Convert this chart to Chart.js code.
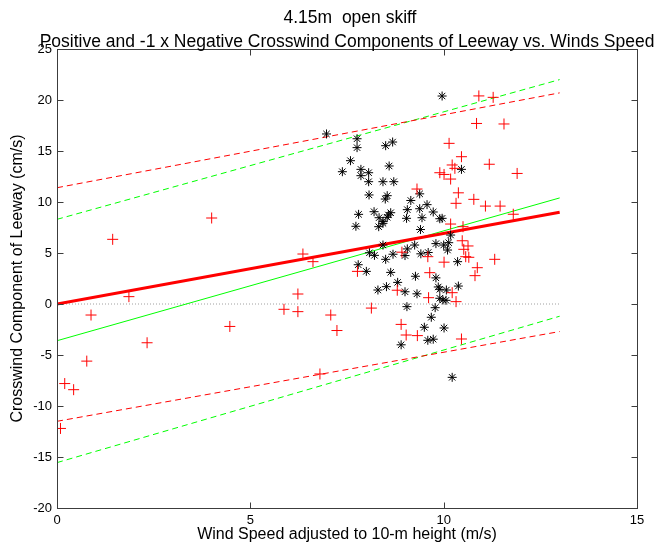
<!DOCTYPE html>
<html>
<head>
<meta charset="utf-8">
<script src="https://cdn.jsdelivr.net/npm/chart.js@4.4.1/dist/chart.umd.min.js"></script>
<style>
  html, body { margin: 0; padding: 0; background: #fff; }
  #wrap { width: 671px; height: 545px; }
</style>
</head>
<body>
<div id="wrap"><canvas id="c" width="671" height="545"></canvas></div>
<script>
// Titles and axis labels
const titleLines = ['4.15m  open skiff', 'Positive and -1 x Negative Crosswind Components of Leeway vs. Winds Speed'];
const xLabel = 'Wind Speed adjusted to 10-m height (m/s)';
const yLabel = 'Crosswind Component of Leeway (cm/s)';

// Axis ranges and ticks
const xTicks = [0, 5, 10, 15];
const yTicks = [-20, -15, -10, -5, 0, 5, 10, 15, 20, 25];

// Positive crosswind observations (asterisks)
const starX = [6.97, 7.76, 7.76, 8.50, 8.68, 7.59, 7.38, 7.86, 8.06, 7.86, 8.59, 8.06, 8.43, 8.71, 8.07, 8.54, 8.49, 9.15, 9.06, 9.04,
  7.80, 8.20, 8.33, 8.43, 8.57, 8.63, 7.73, 8.32, 8.54, 8.43, 9.38, 9.57, 9.38, 9.73, 9.44, 9.90, 9.40, 9.96, 10.46, 9.96,
  8.43, 9.06, 9.25, 9.80, 10.00, 10.10, 10.13, 10.18, 8.08, 8.21, 8.69, 8.50, 9.00, 9.41, 9.60, 10.36, 7.79, 8.00, 8.63, 9.27,
  9.80, 8.81, 8.52, 8.30, 9.00, 9.31, 9.86, 9.90, 10.38, 10.07, 9.90, 9.98, 10.06, 9.05, 9.78, 9.68, 9.50, 10.01, 9.59, 9.73,
  8.90, 10.22];
const starY = [16.67, 16.20, 15.33, 15.52, 15.88, 14.05, 12.97, 13.20, 12.87, 12.58, 13.53, 11.99, 11.99, 11.99, 10.69, 10.62, 10.29, 10.15, 9.25, 8.40,
  8.79, 9.05, 8.46, 7.91, 8.73, 8.95, 7.62, 7.58, 8.50, 8.10, 10.80, 9.74, 9.34, 9.02, 8.46, 8.36, 7.30, 20.39, 13.20, 8.40,
  5.78, 5.40, 5.78, 5.92, 5.78, 5.29, 6.01, 6.76, 5.02, 4.77, 4.88, 4.38, 4.75, 4.92, 5.05, 4.15, 3.85, 3.20, 3.10, 2.72,
  2.56, 2.12, 1.70, 1.37, 1.20, 1.00, 1.67, 1.44, 1.76, 1.37, 0.56, 0.39, 0.36, -0.26, -0.36, -1.30, -2.28, -2.35, -3.56, -3.45,
  -4.00, -7.19];

// -1 x negative crosswind observations (plus signs)
const plusX = [0.09, 0.20, 0.43, 0.77, 0.88, 1.44, 1.86, 2.33, 4.00, 4.47, 5.87, 6.36, 6.62, 6.23, 6.23, 7.08, 7.24, 8.13, 7.77, 8.80,
  8.90, 9.03, 9.32, 8.92, 9.59, 9.64, 10.01, 9.61, 10.91, 11.28, 10.85, 11.56, 10.14, 10.46, 10.22, 10.29, 11.18, 9.90, 10.01, 10.18,
  11.90, 9.31, 10.38, 10.78, 10.32, 11.08, 11.46, 11.80, 10.18, 10.50, 10.48, 10.63, 10.52, 10.57, 10.65, 11.32, 10.87, 10.81, 10.22, 10.32,
  10.46, 6.80];
const plusY = [-12.20, -7.80, -8.40, -5.60, -1.08, 6.34, 0.72, -3.80, 8.43, -2.20, -0.52, 4.90, 4.15, 0.98, -0.75, -1.08, -2.60, -0.40, 3.20, 1.35,
  -2.00, -3.04, -3.10, 5.08, 4.64, 3.07, 4.10, 0.62, 20.40, 20.26, 17.70, 17.65, 15.75, 14.44, 13.63, 13.30, 13.70, 12.87, 12.70, 12.25,
  12.80, 11.27, 10.90, 10.26, 9.87, 9.60, 9.60, 8.80, 7.84, 7.58, 6.20, 5.69, 5.36, 4.64, 4.58, 4.38, 3.56, 2.78, 1.11, 0.23,
  -3.43, -6.86];

// Fitted lines, evaluated at the ends of the wind-speed range
const fitX = [0, 13];
const zeroLine = [0, 0];
const originFit = [0, 9.0];
const originUpper = [11.4, 20.7];
const originLower = [-11.5, -2.7];
const interceptFit = [-3.6, 10.4];
const interceptUpper = [8.3, 22.0];
const interceptLower = [-15.55, -1.2];

const pts = (xs, ys) => xs.map((x, i) => ({ x: x, y: ys[i] }));

const RED = '#ff0000';
const GREEN = '#00ff00';
const FONT = '"Liberation Sans", Arial, Helvetica, sans-serif';

function lineSet(ys, color, width, dash) {
  return {
    type: 'line',
    data: pts(fitX, ys),
    borderColor: color,
    borderWidth: width,
    borderDash: dash,
    pointRadius: 0,
    fill: false,
    tension: 0
  };
}

// Frame, inward tick marks and all text
const decorations = {
  id: 'decorations',
  afterDraw(chart) {
    const ctx = chart.ctx;
    const a = chart.chartArea;
    const xs = chart.scales.x, ys = chart.scales.y;
    const L = Math.round(a.left) + 0.5, R = Math.round(a.right) + 0.5;
    const T = Math.round(a.top) + 0.5, B = Math.round(a.bottom) + 0.5;
    const tl = 6;
    ctx.save();
    ctx.strokeStyle = '#3c3c3c';
    ctx.lineWidth = 1;
    ctx.setLineDash([]);
    ctx.strokeRect(L, T, R - L, B - T);
    ctx.beginPath();
    xTicks.forEach(v => {
      const px = Math.round(xs.getPixelForValue(v)) + 0.5;
      ctx.moveTo(px, B); ctx.lineTo(px, B - tl);
      ctx.moveTo(px, T); ctx.lineTo(px, T + tl);
    });
    yTicks.forEach(v => {
      const py = Math.round(ys.getPixelForValue(v)) + 0.5;
      ctx.moveTo(L, py); ctx.lineTo(L + tl, py);
      ctx.moveTo(R, py); ctx.lineTo(R - tl, py);
    });
    ctx.stroke();

    ctx.fillStyle = '#000';
    ctx.font = '13px ' + FONT;
    ctx.textAlign = 'center';
    ctx.textBaseline = 'top';
    xTicks.forEach(v => ctx.fillText(String(v), xs.getPixelForValue(v), a.bottom + 6));
    ctx.textAlign = 'right';
    ctx.textBaseline = 'middle';
    yTicks.forEach(v => ctx.fillText(String(v), a.left - 5, ys.getPixelForValue(v)));

    const cx = (a.left + a.right) / 2;
    ctx.textAlign = 'center';
    ctx.textBaseline = 'middle';
    ctx.font = '17.5px ' + FONT;
    ctx.fillText(titleLines[0], cx + 3, 18);
    ctx.fillText(titleLines[1], cx, 42);
    ctx.font = '16px ' + FONT;
    ctx.fillText(xLabel, cx, 535);
    ctx.save();
    ctx.translate(18, (a.top + a.bottom) / 2);
    ctx.rotate(-Math.PI / 2);
    ctx.fillText(yLabel, 0, 0);
    ctx.restore();
    ctx.restore();
  }
};

new Chart(document.getElementById('c'), {
  type: 'scatter',
  data: {
    datasets: [
      {
        data: pts(plusX, plusY),
        pointStyle: 'cross',
        pointRadius: 5.5,
        pointBorderWidth: 1,
        pointBorderColor: RED,
        pointBackgroundColor: RED,
        showLine: false
      },
      {
        data: pts(starX, starY),
        pointStyle: 'star',
        pointRadius: 4.5,
        pointBorderWidth: 1,
        pointBorderColor: '#000',
        pointBackgroundColor: '#000',
        showLine: false
      },
      lineSet(originFit, RED, 3, []),
      lineSet(interceptFit, GREEN, 1, []),
      lineSet(originUpper, RED, 1, [6, 4]),
      lineSet(originLower, RED, 1, [6, 4]),
      lineSet(interceptUpper, GREEN, 1, [6, 4]),
      lineSet(interceptLower, GREEN, 1, [6, 4]),
      lineSet(zeroLine, '#a0a0a0', 1, [1, 2])
    ]
  },
  options: {
    responsive: false,
    animation: false,
    events: [],
    layout: { padding: { left: 0, right: 34, top: 49, bottom: 0 } },
    plugins: { legend: { display: false }, tooltip: { enabled: false }, title: { display: false } },
    scales: {
      x: {
        type: 'linear', min: 0, max: 15,
        ticks: { display: false, stepSize: 5 },
        grid: { display: false },
        border: { display: false },
        afterFit(s) { s.height = 37; }
      },
      y: {
        type: 'linear', min: -20, max: 25,
        ticks: { display: false, stepSize: 5 },
        grid: { display: false },
        border: { display: false },
        afterFit(s) { s.width = 57; }
      }
    }
  },
  plugins: [decorations]
});
</script>
</body>
</html>
